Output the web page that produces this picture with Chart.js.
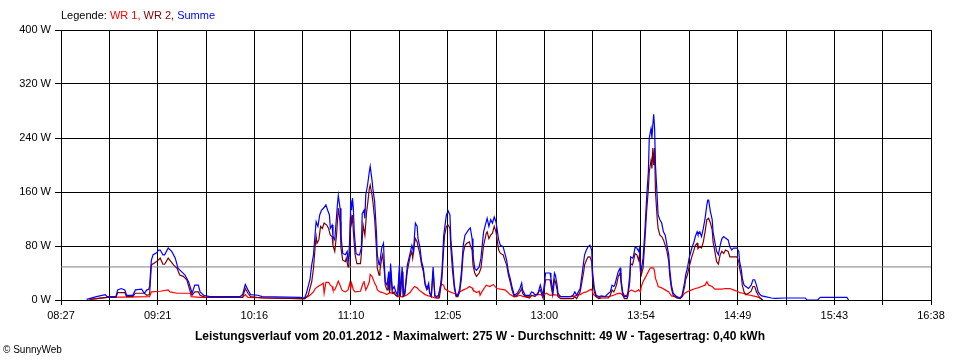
<!DOCTYPE html>
<html>
<head>
<meta charset="utf-8">
<script src="https://cdn.jsdelivr.net/npm/chart.js@4.4.1/dist/chart.umd.min.js"></script>
<style>
  body { margin: 0; background: #fff; }
  #chart { display: block; }
</style>
</head>
<body>
<canvas id="chart" width="960" height="360"></canvas>
<script>
// axis and labels
const axisStart = "08:27";
const axisEnd = "16:38";
const tickLabels = ["08:27", "09:21", "10:16", "11:10", "12:05", "13:00", "13:54", "14:49", "15:43", "16:38"];
const average = 49; // Durchschnitt
const titleText = "Leistungsverlauf vom 20.01.2012 - Maximalwert: 275 W - Durchschnitt: 49 W - Tagesertrag: 0,40 kWh";

// [time, watts] readings
const summe = [
  ["08:41:30", 1], ["08:47", 5], ["08:52", 8], ["08:53", 5], ["08:58", 5], ["08:59", 15], ["09:01", 17], ["09:03", 15],
  ["09:04", 7], ["09:07:30", 7], ["09:09", 15], ["09:12:30", 16], ["09:14", 10], ["09:15:30", 15], ["09:16:30", 16],
  ["09:17", 20], ["09:18", 59], ["09:19", 67], ["09:21", 70], ["09:22", 74], ["09:23", 74], ["09:24:30", 67],
  ["09:25:30", 67], ["09:27:30", 77], ["09:29:30", 72], ["09:31:30", 62], ["09:33", 47], ["09:35", 42], ["09:37", 37],
  ["09:39", 27], ["09:41", 10], ["09:42:30", 22], ["09:44:30", 22], ["09:45:30", 12], ["09:47:30", 7], ["09:51", 5],
  ["10:08", 5], ["10:09:30", 8], ["10:11", 23], ["10:12:30", 15], ["10:14", 8], ["10:18", 7], ["10:20:30", 5],
  ["10:42", 4], ["10:44:30", 3], ["10:45:30", 10], ["10:47:30", 30], ["10:48:30", 52], ["10:49:30", 67], ["10:50:30", 101],
  ["10:51", 116], ["10:52", 109], ["10:53", 126], ["10:54", 133], ["10:55:30", 137], ["10:56:30", 141], ["10:57:30", 133],
  ["10:58:30", 126], ["10:59", 106], ["11:00", 111], ["11:00:30", 94], ["11:01:30", 89], ["11:03", 141], ["11:03:30", 155],
  ["11:04:30", 136], ["11:05", 96], ["11:06", 69], ["11:07:30", 67], ["11:08:30", 72], ["11:09", 57], ["11:10", 72],
  ["11:10:30", 148], ["11:11", 133], ["11:11:30", 151], ["11:12", 136], ["11:12:30", 101], ["11:13:30", 69],
  ["11:14:30", 67], ["11:15:30", 67], ["11:16:30", 77], ["11:17", 128], ["11:18", 133], ["11:18:30", 121], ["11:19", 156],
  ["11:20", 170], ["11:21", 190], ["11:21:30", 198], ["11:22:30", 178], ["11:23", 165], ["11:24", 146], ["11:25", 101],
  ["11:25:30", 67], ["11:26:30", 52], ["11:27", 57], ["11:28", 77], ["11:29", 84], ["11:29:30", 52], ["11:30", 27],
  ["11:31", 22], ["11:32", 42], ["11:32:30", 15], ["11:33", 54], ["11:34", 15], ["11:35", 20], ["11:36", 12], ["11:37", 7],
  ["11:38", 52], ["11:38:30", 7], ["11:39:30", 49], ["11:40:30", 7], ["11:41", 10], ["11:42:30", 52], ["11:44", 69],
  ["11:45", 81], ["11:46", 72], ["11:46:30", 96], ["11:47", 114], ["11:48", 109], ["11:48:30", 91], ["11:49:30", 79],
  ["11:50:30", 57], ["11:51:30", 47], ["11:52:30", 25], ["11:53:30", 17], ["11:54:30", 25], ["11:55", 10], ["11:56", 7],
  ["11:57", 49], ["11:58", 7], ["11:59", 5], ["12:00", 7], ["12:01", 17], ["12:02", 42], ["12:03", 96], ["12:03:30", 106],
  ["12:04:30", 126], ["12:05:30", 132], ["12:06:30", 126], ["12:07", 91], ["12:08", 57], ["12:09", 22], ["12:10", 7],
  ["12:11", 7], ["12:12", 17], ["12:13", 42], ["12:14", 81], ["12:15", 96], ["12:17", 104], ["12:18", 107], ["12:19", 91],
  ["12:19:30", 67], ["12:20:30", 47], ["12:21:30", 44], ["12:23", 49], ["12:24", 62], ["12:25:30", 101], ["12:27", 116],
  ["12:27:30", 121], ["12:28:30", 109], ["12:29:30", 119], ["12:30:30", 114], ["12:31:30", 123], ["12:32:30", 116],
  ["12:34", 89], ["12:35", 81], ["12:36:30", 79], ["12:37:30", 69], ["12:38:30", 59], ["12:39:30", 42], ["12:40:30", 32],
  ["12:41:30", 20], ["12:42:30", 10], ["12:43", 7], ["12:44:30", 10], ["12:46", 17], ["12:47", 25], ["12:47:30", 15],
  ["12:49", 7], ["12:51:30", 7], ["12:52:30", 12], ["12:53:30", 11], ["12:54:30", 8], ["12:56", 8], ["12:57:30", 22],
  ["12:58:30", 12], ["12:59", 7], ["13:00:30", 40], ["13:01:30", 40], ["13:03", 40], ["13:03:30", 32], ["13:04:30", 12],
  ["13:05", 27], ["13:05:30", 40], ["13:06", 37], ["13:07", 22], ["13:07:30", 10], ["13:09", 5], ["13:14:30", 5],
  ["13:16", 7], ["13:17", 12], ["13:18", 7], ["13:19", 12], ["13:20", 17], ["13:21", 37], ["13:22", 57], ["13:22:30", 67],
  ["13:23:30", 74], ["13:24:30", 79], ["13:25:30", 81], ["13:26:30", 74], ["13:27", 42], ["13:28", 17], ["13:29", 7],
  ["13:30:30", 5], ["13:32", 6], ["13:34", 5], ["13:36", 10], ["13:37", 12], ["13:38", 22], ["13:39", 20], ["13:39:30", 22],
  ["13:40:30", 32], ["13:41:30", 42], ["13:42:30", 47], ["13:43", 32], ["13:44", 12], ["13:45", 5], ["13:46:30", 5],
  ["13:47", 12], ["13:48", 37], ["13:48:30", 64], ["13:49:30", 62], ["13:50", 64], ["13:51", 78], ["13:52", 77],
  ["13:53", 72], ["13:53:30", 77], ["13:54", 52], ["13:54:30", 44], ["13:55:30", 62], ["13:56:30", 101], ["13:57:30", 151],
  ["13:58:30", 190], ["13:59", 240], ["14:00", 254], ["14:00:30", 240], ["14:01", 259], ["14:01:30", 275], ["14:02", 255],
  ["14:02:30", 200], ["14:03:30", 151], ["14:04", 126], ["14:05", 119], ["14:06", 114], ["14:07", 101], ["14:08", 96],
  ["14:09", 81], ["14:10", 67], ["14:10:30", 47], ["14:11:30", 22], ["14:12:30", 10], ["14:14:30", 5], ["14:16:30", 3],
  ["14:17:30", 7], ["14:19", 27], ["14:19:30", 37], ["14:20:30", 47], ["14:21:30", 62], ["14:23", 77], ["14:24", 84],
  ["14:25", 94], ["14:26", 101], ["14:26:30", 97], ["14:27:30", 101], ["14:28:30", 94], ["14:29:30", 106], ["14:30:30", 121],
  ["14:31:30", 141], ["14:32", 148], ["14:32:30", 148], ["14:33:30", 131], ["14:34:30", 119], ["14:35", 101], ["14:36", 86],
  ["14:37", 72], ["14:38", 67], ["14:39", 81], ["14:40", 91], ["14:41", 94], ["14:42", 92], ["14:43:30", 89],
  ["14:44:30", 79], ["14:45:30", 74], ["14:46:30", 77], ["14:48:30", 77], ["14:49:30", 72], ["14:50", 57], ["14:51", 44],
  ["14:51:30", 32], ["14:52:30", 22], ["14:53:30", 20], ["14:55", 17], ["14:56:30", 22], ["14:57:30", 30], ["14:58:30", 30],
  ["14:59:30", 22], ["15:00:30", 12], ["15:01:30", 8], ["15:02:30", 6], ["15:04:30", 5], ["15:08", 3], ["15:10", 2.5],
  ["15:15:30", 3], ["15:27", 3], ["15:28", 0], ["15:34", 0], ["15:35:30", 4], ["15:50:30", 4], ["15:51:30", 0]
];

const wr2 = [
  ["08:43", 1], ["08:47", 2], ["08:53", 4], ["08:58", 4], ["08:59", 11], ["09:03", 11], ["09:04", 5], ["09:07:30", 5],
  ["09:09", 10], ["09:14", 10], ["09:15:30", 7], ["09:17", 8], ["09:18", 52], ["09:21", 57], ["09:23", 62], ["09:24:30", 53],
  ["09:25:30", 53], ["09:27:30", 62], ["09:30:30", 52], ["09:32:30", 47], ["09:34", 37], ["09:36", 35], ["09:38", 30],
  ["09:40", 12], ["09:41", 7], ["09:42:30", 12], ["09:44:30", 12], ["09:45:30", 7], ["09:48:30", 4], ["10:09:30", 4],
  ["10:11", 17], ["10:12:30", 10], ["10:14", 5], ["10:20:30", 3], ["10:42", 2], ["10:44:30", 2], ["10:46:30", 7],
  ["10:48:30", 27], ["10:49:30", 47], ["10:50:30", 81], ["10:51", 94], ["10:51:30", 84], ["10:52:30", 89], ["10:53:30", 109],
  ["10:54:30", 106], ["10:55:30", 114], ["10:57", 111], ["10:58", 106], ["10:59", 96], ["11:00", 94], ["11:00:30", 81],
  ["11:01:30", 72], ["11:02:30", 96], ["11:03:30", 136], ["11:04:30", 116], ["11:05", 77], ["11:06", 59], ["11:07:30", 57],
  ["11:08", 62], ["11:09", 49], ["11:09:30", 67], ["11:10:30", 128], ["11:11", 114], ["11:11:30", 126], ["11:12", 101],
  ["11:13", 67], ["11:14", 54], ["11:16", 54], ["11:16:30", 67], ["11:17:30", 111], ["11:18", 111], ["11:18:30", 96],
  ["11:19:30", 131], ["11:20", 141], ["11:21", 165], ["11:21:30", 170], ["11:22:30", 156], ["11:23", 146], ["11:24", 121],
  ["11:25", 77], ["11:25:30", 47], ["11:26:30", 37], ["11:27", 44], ["11:28", 62], ["11:28:30", 67], ["11:29:30", 42],
  ["11:30", 22], ["11:31", 15], ["11:31:30", 32], ["11:32:30", 10], ["11:33", 44], ["11:34", 10], ["11:35", 12], ["11:36", 7],
  ["11:37", 5], ["11:38", 42], ["11:38:30", 5], ["11:39:30", 42], ["11:40", 5], ["11:41", 7], ["11:42:30", 44], ["11:44", 64],
  ["11:45", 72], ["11:45:30", 62], ["11:46:30", 84], ["11:47", 91], ["11:48", 86], ["11:48:30", 79], ["11:49:30", 69],
  ["11:50:30", 52], ["11:51:30", 42], ["11:52:30", 22], ["11:53:30", 15], ["11:54:30", 20], ["11:55:30", 7], ["11:56", 5],
  ["11:57", 42], ["11:58", 5], ["11:59", 3], ["12:00:30", 3], ["12:01", 12], ["12:02", 32], ["12:03", 77], ["12:03:30", 96],
  ["12:04:30", 109], ["12:05:30", 111], ["12:06:30", 106], ["12:07", 77], ["12:08", 42], ["12:09", 17], ["12:10", 5],
  ["12:11", 5], ["12:12", 12], ["12:13", 32], ["12:14", 69], ["12:15", 81], ["12:16", 84], ["12:17:30", 86], ["12:18", 81],
  ["12:19", 74], ["12:19:30", 52], ["12:20:30", 40], ["12:21:30", 35], ["12:23", 40], ["12:24", 47], ["12:25:30", 81],
  ["12:27", 99], ["12:27:30", 101], ["12:28:30", 91], ["12:29:30", 96], ["12:30:30", 99], ["12:31:30", 109], ["12:32:30", 101],
  ["12:34", 74], ["12:35", 69], ["12:36:30", 67], ["12:37:30", 59], ["12:38:30", 52], ["12:39:30", 37], ["12:40:30", 27],
  ["12:41:30", 15], ["12:42:30", 7], ["12:43", 5], ["12:44:30", 7], ["12:46", 12], ["12:47", 17], ["12:47:30", 10],
  ["12:49", 5], ["12:51:30", 3], ["12:52:30", 7], ["12:54:30", 5], ["12:57:30", 15], ["12:58:30", 7], ["12:59", 3],
  ["13:00:30", 30], ["13:03", 30], ["13:03:30", 22], ["13:04:30", 7], ["13:05", 17], ["13:05:30", 30], ["13:06", 27],
  ["13:07", 15], ["13:07:30", 5], ["13:09", 2], ["13:16", 2], ["13:17", 5], ["13:18", 2], ["13:19", 7], ["13:20", 12],
  ["13:21", 27], ["13:22", 42], ["13:22:30", 52], ["13:23:30", 59], ["13:24:30", 64], ["13:25:30", 64], ["13:26:30", 57],
  ["13:27", 32], ["13:28", 12], ["13:29", 5], ["13:30:30", 2], ["13:32", 3], ["13:36", 3], ["13:37", 7], ["13:38", 15],
  ["13:39", 12], ["13:39:30", 15], ["13:40:30", 22], ["13:41:30", 35], ["13:42:30", 40], ["13:43", 27], ["13:44", 7],
  ["13:45", 2], ["13:46:30", 2], ["13:47", 7], ["13:48", 27], ["13:48:30", 54], ["13:49:30", 52], ["13:50", 57],
  ["13:51", 69], ["13:52", 67], ["13:53", 59], ["13:53:30", 67], ["13:54", 42], ["13:54:30", 37], ["13:55:30", 47],
  ["13:56:30", 86], ["13:57:30", 131], ["13:58:30", 165], ["13:59", 190], ["14:00", 207], ["14:00:30", 195], ["14:01", 225],
  ["14:01:30", 200], ["14:02", 225], ["14:02:30", 160], ["14:03:30", 120], ["14:04", 106], ["14:05", 96], ["14:06", 94],
  ["14:07", 89], ["14:08", 81], ["14:09", 72], ["14:10", 57], ["14:10:30", 37], ["14:11:30", 17], ["14:12:30", 7],
  ["14:14:30", 3], ["14:16:30", 2], ["14:17:30", 5], ["14:19", 20], ["14:19:30", 30], ["14:20:30", 37], ["14:21:30", 49],
  ["14:23", 64], ["14:24", 72], ["14:25", 81], ["14:26", 84], ["14:26:30", 76], ["14:27:30", 79], ["14:28:30", 77],
  ["14:29:30", 86], ["14:30:30", 101], ["14:31:30", 119], ["14:32:30", 121], ["14:33:30", 114], ["14:34:30", 104],
  ["14:35", 86], ["14:36", 72], ["14:37", 57], ["14:38", 53], ["14:39", 67], ["14:40", 72], ["14:41", 69], ["14:42", 74],
  ["14:43:30", 72], ["14:44:30", 64], ["14:48:30", 64], ["14:49:30", 57], ["14:50", 47], ["14:51", 35], ["14:51:30", 22],
  ["14:52:30", 12], ["14:53:30", 8], ["14:55", 10], ["14:56:30", 13], ["14:57:30", 20], ["14:58:30", 20], ["14:59:30", 12],
  ["15:00:30", 7], ["15:01:30", 3], ["15:02:30", 1], ["15:03", 0]
];

const wr1 = [
  ["08:43:30", 1], ["08:53", 4], ["09:17", 5], ["09:18", 12], ["09:23", 13], ["09:27:30", 15], ["09:28:30", 12],
  ["09:32:30", 10], ["09:40", 10], ["09:40:30", 5], ["09:45:30", 4], ["10:09:30", 4], ["10:11", 8], ["10:12:30", 4],
  ["10:42", 2], ["10:44:30", 2], ["10:47:30", 7], ["10:49:30", 12], ["10:50:30", 17], ["10:52", 20], ["10:54", 23],
  ["10:55", 25], ["10:55:30", 10], ["10:56:30", 26], ["10:58", 26], ["10:59", 22], ["11:00", 20], ["11:00:30", 15],
  ["11:01:30", 15], ["11:02:30", 21], ["11:03:30", 28], ["11:04:30", 22], ["11:05:30", 15], ["11:06:30", 13],
  ["11:07:30", 12], ["11:09", 15], ["11:10", 25], ["11:10:30", 17], ["11:11", 25], ["11:11:30", 20], ["11:12", 15],
  ["11:13", 12], ["11:16", 13], ["11:16:30", 17], ["11:17:30", 25], ["11:18", 28], ["11:19", 15], ["11:20", 20],
  ["11:21", 27], ["11:21:30", 38], ["11:22:30", 35], ["11:23", 32], ["11:24", 25], ["11:25", 20], ["11:25:30", 15],
  ["11:27", 12], ["11:28:30", 11], ["11:31", 8], ["11:32:30", 11], ["11:34:30", 10], ["11:36:30", 6], ["11:38:30", 5],
  ["11:40", 5], ["11:42", 7], ["11:44", 11], ["11:45", 15], ["11:46:30", 20], ["11:48", 18], ["11:49", 15],
  ["11:50:30", 12], ["11:52:30", 8], ["11:54:30", 6], ["11:56", 5], ["11:58", 3], ["12:00", 3], ["12:01", 20],
  ["12:02", 23], ["12:03", 22], ["12:03:30", 17], ["12:04:30", 15], ["12:06:30", 12], ["12:08:30", 10], ["12:10:30", 8],
  ["12:12", 12], ["12:14", 15], ["12:16", 17], ["12:17:30", 20], ["12:19", 18], ["12:19:30", 15], ["12:21:30", 11],
  ["12:23", 13], ["12:23:30", 7], ["12:24:30", 12], ["12:26:30", 20], ["12:27", 22], ["12:29", 20], ["12:31", 23],
  ["12:33", 17], ["12:35", 16], ["12:37:30", 15], ["12:38:30", 13], ["12:40:30", 8], ["12:42:30", 5], ["12:44", 5],
  ["12:46", 7], ["12:48", 5], ["12:51:30", 5], ["12:53:30", 7], ["12:55:30", 8], ["12:57:30", 8], ["12:59", 7],
  ["13:01", 10], ["13:03", 7], ["13:05", 8], ["13:07", 7], ["13:08:30", 5], ["13:16", 5], ["13:18", 7], ["13:20", 8],
  ["13:22", 11], ["13:23:30", 12], ["13:25:30", 15], ["13:26:30", 16], ["13:27:30", 8], ["13:29", 5], ["13:30:30", 3],
  ["13:32", 5], ["13:36", 5], ["13:39", 7], ["13:40:30", 9], ["13:42:30", 10], ["13:44:30", 7], ["13:46:30", 7],
  ["13:47", 11], ["13:49", 15], ["13:51", 12], ["13:53", 15], ["13:54", 12], ["13:54:30", 20], ["13:55:30", 27],
  ["13:56:30", 32], ["13:57:30", 37], ["13:58:30", 42], ["13:59:30", 47], ["14:00:30", 48], ["14:01:30", 47],
  ["14:02", 42], ["14:02:30", 32], ["14:03:30", 25], ["14:04", 20], ["14:06", 18], ["14:08", 15], ["14:10", 12],
  ["14:10:30", 10], ["14:11:30", 6], ["14:13:30", 5], ["14:15:30", 3], ["14:17:30", 5], ["14:19", 10], ["14:21", 13],
  ["14:23", 15], ["14:25", 17], ["14:26:30", 18], ["14:28:30", 20], ["14:30:30", 22], ["14:31:30", 27], ["14:32:30", 22],
  ["14:34:30", 20], ["14:36", 16], ["14:38", 16], ["14:40", 16], ["14:42", 17], ["14:44:30", 17], ["14:46:30", 15],
  ["14:48:30", 13], ["14:50", 11], ["14:52", 10], ["14:54", 8], ["14:56", 7], ["14:57:30", 6], ["14:59:30", 5],
  ["15:01:30", 3], ["15:03", 0]
];

const toMin = (t) => {
  const [h, m, s] = t.split(":").map(Number);
  return h * 60 + m + (s || 0) / 60;
};
const toPoints = (rows) => rows.map(([t, v]) => ({ x: toMin(t), y: v }));

const xMin = toMin(axisStart);
const xMax = toMin(axisEnd);
const gridCount = (tickLabels.length - 1) * 2;

const textPlugin = {
  id: "texts",
  afterDraw(chart) {
    const ctx = chart.ctx;
    ctx.save();
    ctx.textBaseline = "middle";
    ctx.font = '11px "Liberation Sans", Arial, sans-serif';
    let x = 61;
    [["Legende: ", "#000000"], ["WR 1, ", "#ff0000"], ["WR 2, ", "#800000"], ["Summe", "#0000ff"]].forEach(([t, c]) => {
      ctx.fillStyle = c;
      ctx.fillText(t, x, 16);
      x += ctx.measureText(t).width;
    });
    ctx.fillStyle = "#000";
    ctx.font = 'bold 12px "Liberation Sans", Arial, sans-serif';
    ctx.textAlign = "center";
    ctx.fillText(titleText, 480, 337);
    ctx.font = '10px "Liberation Sans", Arial, sans-serif';
    ctx.textAlign = "left";
    ctx.fillText("\u00a9 SunnyWeb", 3, 350);
    ctx.restore();
  }
};

const line = (label, rows, color, order) => ({
  label,
  data: toPoints(rows),
  borderColor: color,
  backgroundColor: color,
  borderWidth: 1.2,
  pointRadius: 0,
  tension: 0,
  order
});

new Chart(document.getElementById("chart"), {
  type: "line",
  data: {
    datasets: [
      line("Summe", summe, "#0000ff", 0),
      line("WR 2", wr2, "#800000", 1),
      line("WR 1", wr1, "#ff0000", 2),
      {
        label: "Durchschnitt",
        data: [{ x: xMin, y: average }, { x: xMax, y: average }],
        borderColor: "#808080",
        borderWidth: 1,
        pointRadius: 0,
        order: 3
      }
    ]
  },
  options: {
    responsive: false,
    animation: false,
    devicePixelRatio: 1,
    layout: { padding: { top: 30, right: 29, left: 0, bottom: 0 } },
    plugins: { legend: { display: false }, tooltip: { enabled: false } },
    scales: {
      x: {
        type: "linear",
        min: xMin,
        max: xMax,
        afterFit: (s) => { s.height = 60; },
        afterBuildTicks: (s) => {
          s.ticks = [];
          for (let i = 0; i <= gridCount; i++) s.ticks.push({ value: xMin + (xMax - xMin) * i / gridCount });
        },
        grid: { color: "#000", lineWidth: 1, tickLength: 5, tickColor: "#000" },
        border: { color: "#000" },
        ticks: {
          autoSkip: false,
          maxRotation: 0,
          padding: 4,
          color: "#000",
          font: { family: '"Liberation Sans", Arial, sans-serif', size: 11 },
          callback: (v, i) => (i % 2 === 0 ? tickLabels[i / 2] : "")
        }
      },
      y: {
        min: 0,
        max: 400,
        afterFit: (s) => { s.width = 61; },
        grid: { color: "#000", lineWidth: 1, tickLength: 6, tickColor: "#000" },
        border: { color: "#000" },
        ticks: {
          stepSize: 80,
          padding: 4,
          color: "#000",
          font: { family: '"Liberation Sans", Arial, sans-serif', size: 11 },
          callback: (v) => v + " W"
        }
      }
    }
  },
  plugins: [textPlugin]
});
</script>
</body>
</html>
